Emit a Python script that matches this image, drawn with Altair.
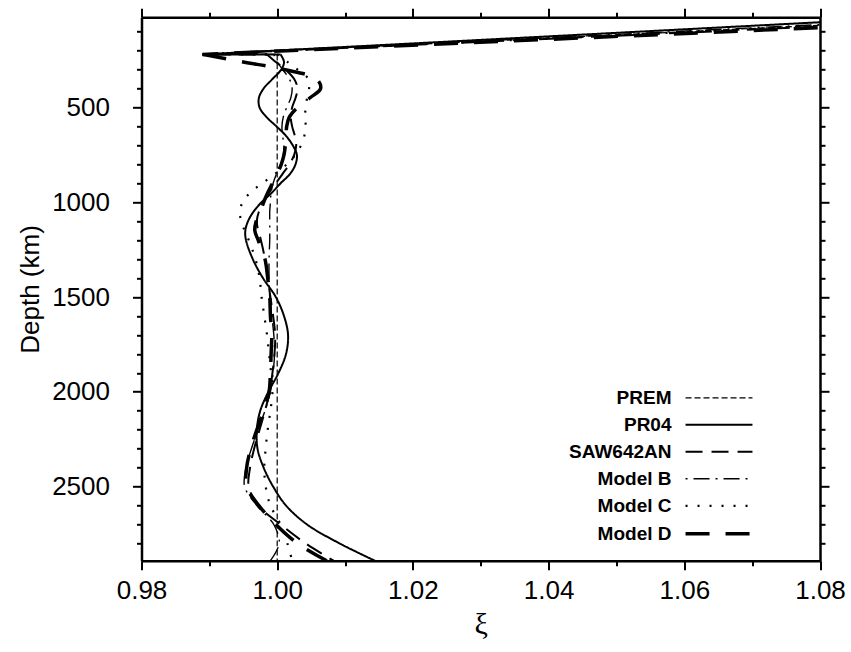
import altair as alt
import pandas as pd

# ---------------- data ----------------
models = ["PREM", "PR04", "SAW642AN", "Model B", "Model C", "Model D"]
dash_styles = [[6, 3], [1, 0], [17, 9], [2, 6, 16, 6], [2, 10], [24, 16]]
line_widths = [1.2, 2.0, 2.0, 1.4, 2.2, 3.5]

moho_depth = 24.4
lid_depth = 220.0
lid_xi = 0.989
top_xi = [1.105, 1.094, 1.110, 1.102, 1.107, 1.115]

depths = [220, 260, 300, 350, 400, 450, 500, 550, 600, 650,
          700, 750, 800, 850, 900, 950, 1000, 1050, 1100, 1150,
          1200, 1300, 1400, 1500, 1600, 1700, 1800, 1900, 2000, 2100,
          2200, 2300, 2400, 2500, 2600, 2700, 2800, 2891]

xi_prem = [1.0] * 38
xi_pr04 = [1.0005, 1.0010, 1.0006, 0.9993, 0.9980, 0.9973, 0.9974, 0.9984, 0.9999, 1.0013,
           1.0023, 1.0029, 1.0027, 1.0019, 1.0005, 0.9992, 0.9977, 0.9965, 0.9957, 0.9953,
           0.9954, 0.9964, 0.9979, 0.9998, 1.0010, 1.0016, 1.0013, 1.0002, 0.9987, 0.9975,
           0.9970, 0.9971, 0.9980, 0.9994, 1.0013, 1.0044, 1.0092, 1.0144]
xi_saw = [0.9985, 0.9998, 1.0012, 1.0025, 1.0030, 1.0027, 1.0022, 1.0020, 1.0022, 1.0026,
          1.0028, 1.0025, 1.0018, 1.0008, 0.9998, 0.9988, 0.9980, 0.9973, 0.9970, 0.9972,
          0.9976, 0.9982, 0.9986, 0.9990, 0.9994, 0.9997, 0.9996, 0.9993, 0.9989, 0.9982,
          0.9974, 0.9966, 0.9960, 0.9958, 0.9972, 1.0005, 1.0042, 1.0083]
xi_b = [0.9995, 1.0000, 1.0008, 1.0018, 1.0022, 1.0020, 1.0014, 1.0009, 1.0007, 1.0008,
        1.0010, 1.0009, 1.0005, 0.9999, 0.9994, 0.9991, 0.9990, 0.9989, 0.9989, 0.9989,
        0.9989, 0.9988, 0.9988, 0.9989, 0.9992, 0.9995, 0.9996, 0.9994, 0.9990, 0.9982,
        0.9972, 0.9962, 0.9954, 0.9952, 0.9970, 0.9995, 1.0003, 0.9990]
xi_c = [1.0000, 1.0015, 1.0030, 1.0046, 1.0047, 1.0044, 1.0042, 1.0041, 1.0042, 1.0040,
        1.0035, 1.0027, 1.0014, 0.9997, 0.9978, 0.9960, 0.9949, 0.9945, 0.9947, 0.9952,
        0.9958, 0.9968, 0.9974, 0.9977, 0.9981, 0.9985, 0.9988, 0.9991, 0.9993, 0.9990,
        0.9986, 0.9983, 0.9981, 0.9983, 0.9990, 1.0005, 1.0015, 1.0022]
xi_d = [0.9890, 0.9950, 1.0010, 1.0058, 1.0064, 1.0048, 1.0030, 1.0018, 1.0014, 1.0013,
        1.0012, 1.0010, 1.0006, 1.0000, 0.9993, 0.9986, 0.9980, 0.9975, 0.9969, 0.9967,
        0.9972, 0.9982, 0.9986, 0.9989, 0.9990, 0.9992, 0.9991, 0.9990, 0.9988, 0.9980,
        0.9970, 0.9961, 0.9955, 0.9955, 0.9973, 0.9998, 1.0030, 1.0073]
profiles = [xi_prem, xi_pr04, xi_saw, xi_b, xi_c, xi_d]

xticks = [round(0.98 + 0.01 * i, 2) for i in range(11)]
yticks = list(range(100, 2900, 100))

# ---------------- tables ----------------
top_rows, curve_rows = [], []
for m, t, prof in zip(models, top_xi, profiles):
    top_rows += [
        {"model": m, "depth": moho_depth, "xi": t, "idx": 0},
        {"model": m, "depth": lid_depth, "xi": lid_xi, "idx": 1},
        {"model": m, "depth": lid_depth, "xi": prof[0], "idx": 2},
    ]
    for i, (d, v) in enumerate(zip(depths, prof)):
        curve_rows.append({"model": m, "depth": d, "xi": v, "idx": i})
top_df = pd.DataFrame(top_rows)
curve_df = pd.DataFrame(curve_rows)

FONT = "Liberation Sans"
xscale = alt.Scale(domain=[0.98, 1.08], nice=False, zero=False)
yscale = alt.Scale(domain=[moho_depth, 2891], reverse=True, nice=False, zero=False)
dash_scale = alt.Scale(domain=models, range=dash_styles)
width_scale = alt.Scale(domain=models, range=line_widths, type="ordinal")

major_x = "round(datum.value*100) % 2 == 0"
major_y = "datum.value % 500 == 0"

common_axis = dict(domainColor="black", domainWidth=2.5, tickColor="black", tickWidth=2,
                   grid=False, labelFont=FONT, labelFontSize=26, labelColor="black",
                   titleFontWeight="normal", titleColor="black")

x_bottom = alt.Axis(orient="bottom", values=xticks,
                    labelExpr=f"{major_x} ? format(datum.value, '.2f') : ''",
                    tickSize={"condition": {"test": major_x, "value": 9}, "value": 5},
                    labelPadding=8, labelOverlap=False, labelFlush=False,
                    title="ξ", titleFont="Liberation Serif", titleFontSize=30, titlePadding=6,
                    **common_axis)
y_left = alt.Axis(orient="left", values=yticks,
                  labelExpr=f"{major_y} ? format(datum.value, 'd') : ''",
                  tickSize={"condition": {"test": major_y, "value": 9}, "value": 5},
                  labelPadding=23, labelOverlap=False, labelFlush=False,
                  title="Depth (km)", titleFont=FONT, titleFontSize=26, titlePadding=8,
                  **common_axis)
x_top = alt.Axis(orient="top", values=xticks, labels=False, title=None,
                 tickSize={"condition": {"test": major_x, "value": 9}, "value": 5},
                 **common_axis)
y_right = alt.Axis(orient="right", values=yticks, labels=False, title=None,
                   tickSize={"condition": {"test": major_y, "value": 9}, "value": 5},
                   **common_axis)

# long horizontal stroke symbol: path spans 4 units of sqrt(size) -> ~67 px
legend = alt.Legend(orient="none", legendX=567, legendY=371, title=None,
                    symbolType="M-4,0L4,0", symbolSize=280, symbolStrokeColor="black",
                    symbolFillColor="transparent",
                    labelFont=FONT, labelFontWeight="bold", labelFontSize=19,
                    labelColor="black", labelAlign="right", labelOffset={"expr": "-58"},
                    rowPadding=7, padding=0, labelLimit=0)

top_layer = alt.Chart(top_df).mark_line(color="black", clip=True).encode(
    x=alt.X("xi:Q", scale=xscale, axis=x_bottom),
    y=alt.Y("depth:Q", scale=yscale, axis=y_left),
    strokeDash=alt.StrokeDash("model:N", scale=dash_scale, legend=legend),
    strokeWidth=alt.StrokeWidth("model:N", scale=width_scale, legend=legend),
    order=alt.Order("idx:Q"),
)

curve_layer = alt.Chart(curve_df).mark_line(color="black", interpolate="catmull-rom",
                                            clip=True).encode(
    x=alt.X("xi:Q", scale=xscale, axis=None),
    y=alt.Y("depth:Q", scale=yscale, axis=None),
    strokeDash=alt.StrokeDash("model:N", scale=dash_scale, legend=legend),
    strokeWidth=alt.StrokeWidth("model:N", scale=width_scale, legend=legend),
    order=alt.Order("idx:Q"),
)

frame_layer = alt.Chart(curve_df).mark_point(opacity=0).encode(
    x=alt.X("xi:Q", scale=xscale, axis=x_top),
    y=alt.Y("depth:Q", scale=yscale, axis=y_right),
)

chart = alt.layer(top_layer, curve_layer, frame_layer).resolve_axis(
    x="independent", y="independent"
).properties(
    width=678.5, height=543.4,
    padding={"left": 141.5, "top": 17.3, "right": 31, "bottom": 91.3},
    autosize="none",
).configure_view(stroke=None).configure(background="white")

chart.save("out.html", embed_options={"renderer": "svg", "actions": False})
